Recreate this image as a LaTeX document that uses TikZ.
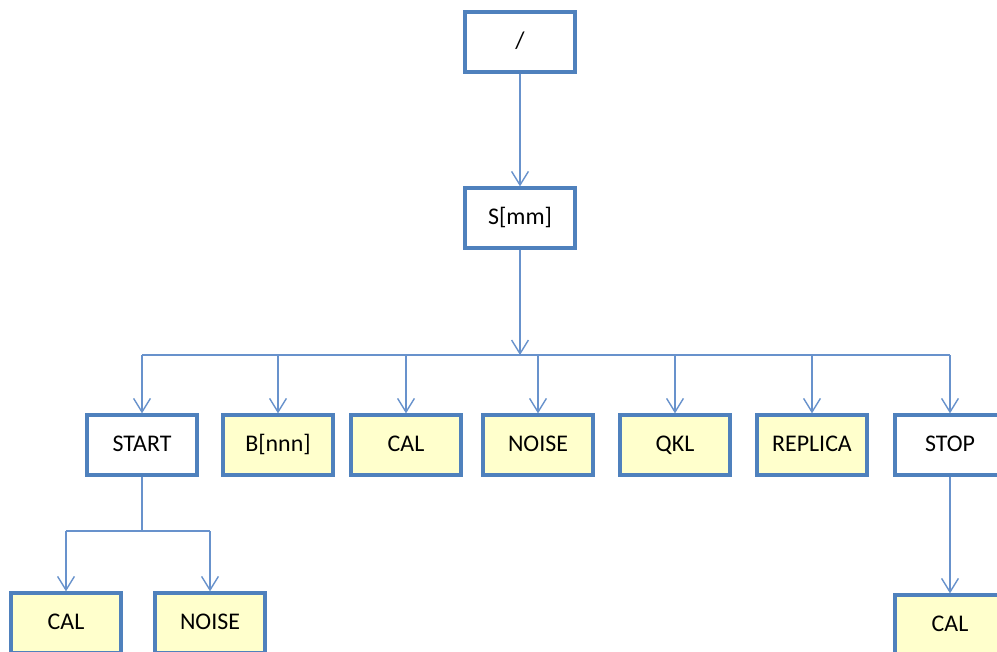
\documentclass[tikz,border=0pt]{standalone}
\usepackage{fontspec}
\setmainfont{Carlito}
\usepackage{xcolor}
\usetikzlibrary{arrows.meta, positioning}

\definecolor{boxblue}{RGB}{79,129,189}
\definecolor{linkblue}{RGB}{104,146,204}
\definecolor{boxyellow}{RGB}{255,255,204}

\tikzset{
  treebox/.style={draw=boxblue, line width=2.9pt, minimum width=2.73cm, minimum height=1.48cm,
    inner sep=0pt, text height=0.9em, text depth=0em, font=\fontsize{17}{20}\selectfont},
  leafbox/.style={treebox, fill=boxyellow},
  link/.style={draw=linkblue, line width=1pt},
  linkarrow/.style={link, -{Straight Barb[length=0.34cm, width=0.42cm]}}
}

\begin{document}
\begin{tikzpicture}[x=0.025cm, y=-0.025cm]
\useasboundingbox (0, 0) rectangle (997, 651);
\fill [white] (0, 0) rectangle (997, 651);
% top of the tree
\node [treebox, fill=white] (root) at (520, 42) {/};
\node [treebox, fill=white] (smm) at (520, 218) {S[mm]};
% second row
\node [treebox, fill=white] (start) at (142, 445) {START};
\node [leafbox] (bnnn) at (278, 445) {B[nnn]};
\node [leafbox] (cal) at (406, 445) {CAL};
\node [leafbox] (noise) at (538, 445) {NOISE};
\node [leafbox] (qkl) at (675, 445) {QKL};
\node [leafbox] (replica) at (812, 445) {REPLICA};
\node [treebox, fill=white] (stop) at (950, 445) {STOP};
% third row
\node [leafbox] (startcal) at (66, 623) {CAL};
\node [leafbox] (startnoise) at (210, 623) {NOISE};
\node [leafbox] (stopcal) at (950, 625) {CAL};
\coordinate (bus) at (520, 355);
\coordinate (split) at (142, 531);

\draw [linkarrow] (root) -- (smm);
\draw [linkarrow] (smm) -- (bus);
\draw [link] (start.north |- bus) -- (stop.north |- bus);
\foreach \n in {start, bnnn, cal, noise, qkl, replica, stop}
  \draw [linkarrow] (\n.north |- bus) -- (\n);
\draw [link] (start) -- (split);
\draw [link] (startcal.north |- split) -- (startnoise.north |- split);
\foreach \n in {startcal, startnoise}
  \draw [linkarrow] (\n.north |- split) -- (\n);
\draw [linkarrow] (stop) -- (stopcal);
\end{tikzpicture}
\end{document}
